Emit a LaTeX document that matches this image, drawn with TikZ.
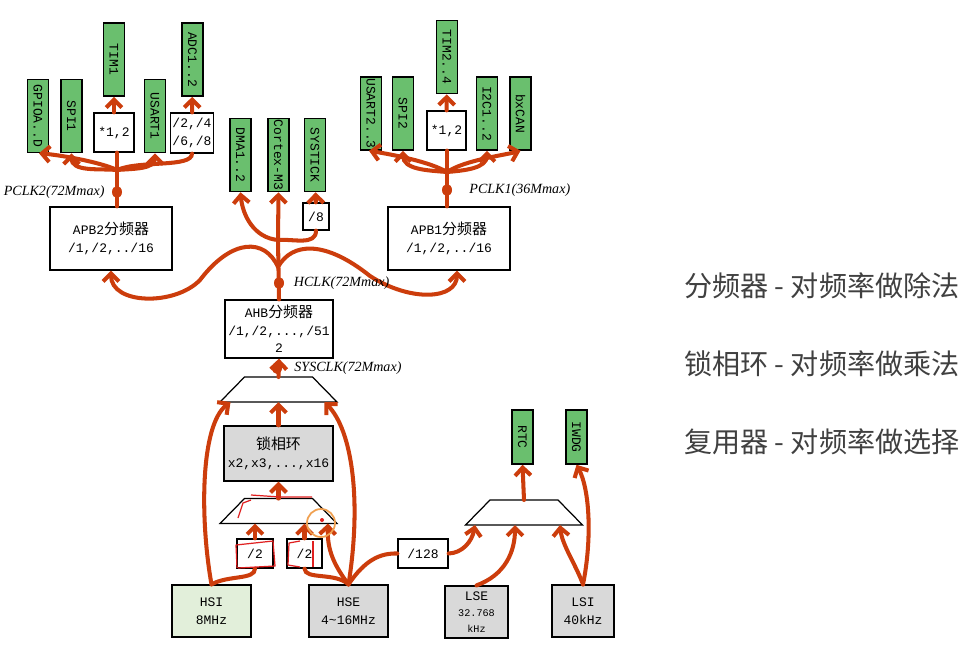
\documentclass[tikz,border=0pt]{standalone}
\usepackage{fontspec}
\setmainfont{Liberation Mono}
\newfontfamily\cjk[Scale=1.15]{Noto Sans CJK SC}
\newfontfamily\notefont{Noto Sans CJK SC}
\newfontfamily\labelfont{Liberation Serif}
\usepackage{tikz}
\usetikzlibrary{arrows.meta, positioning, calc, shapes.geometric}
\usepackage{xcolor}
\definecolor{clkRed}{HTML}{CC3D0C}
\definecolor{periphGreen}{HTML}{6ABF6E}
\definecolor{hsiGreen}{HTML}{E2EFDA}
\definecolor{oscGray}{HTML}{D9D9D9}
\definecolor{noteGray}{HTML}{404040}
\definecolor{penRed}{HTML}{E02020}
\definecolor{cursorOrange}{HTML}{F0A050}

\begin{document}
\begin{tikzpicture}[
        x=0.02cm, y=-0.02cm,
        font=\fontsize{7.4}{10}\selectfont,
        box/.style={draw, line width=0.7pt, align=center, inner sep=1pt, fill=#1},
        box/.default=white,
        periph/.style={draw, line width=0.9pt, fill=periphGreen, inner sep=0pt,
                       minimum width=0.42cm, minimum height=#1},
        periph/.default=1.46cm,
        muxline/.style={draw, line width=0.7pt, fill=white},
        wire/.style={draw=clkRed, line width=2.3pt, line cap=round},
        arr/.style={wire, -{Straight Barb[length=4.5pt,width=9pt]}},
        dot/.style={ellipse, fill=clkRed, inner sep=0pt, minimum width=0.2cm, minimum height=0.24cm},
        lbl/.style={font=\labelfont\itshape\fontsize{8}{9}\selectfont, inner sep=1pt},
        note/.style={font=\notefont\fontsize{16}{18}\selectfont, text=noteGray, anchor=west},
        pen/.style={draw=penRed, line width=0.7pt, line join=round}
      ]
      \useasboundingbox (0,0) rectangle (966,670);

      % APB2 side
      \node[periph] (gpio)     at (38,116)    {\rotatebox{-90}{GPIOA..D}};
      \node[periph] (spione)   at (71.5,116)  {\rotatebox{-90}{SPI1}};
      \node[periph] (timone)   at (114,59.5)  {\rotatebox{-90}{TIM1}};
      \node[periph] (usartone) at (155,116)   {\rotatebox{-90}{USART1}};
      \node[periph] (adc)      at (192.5,59.5){\rotatebox{-90}{ADC1..2}};
      \node[box, minimum width=0.8cm, minimum height=0.78cm] (mulA) at (114,132.5) {*1,2};
      \node[box, minimum width=0.8cm, minimum height=0.8cm]  (divA) at (192,133) {/2,/4\\/6,/8};
      \node[box, minimum width=2.44cm, minimum height=1.26cm] (apbtwo) at (111,238.5)
        {APB2{\cjk 分频器}\\/1,/2,../16};

      % AHB side
      \node[periph] (dma)     at (240.5,155) {\rotatebox{-90}{DMA1..2}};
      \node[periph] (cortex)  at (278.5,155) {\rotatebox{-90}{Cortex-M3}};
      \node[periph] (systick) at (315,155)   {\rotatebox{-90}{SYSTICK}};
      \node[box, minimum width=0.52cm, minimum height=0.54cm] (diveight) at (316,216.5) {/8};
      \node[box, minimum width=2.16cm, minimum height=1.16cm] (ahb) at (279,329)
        {AHB{\cjk 分频器}\\/1,/2,...,/51\\2};

      % APB1 side
      \node[periph] (usarttwo) at (371,113.5) {\rotatebox{-90}{USART2..3}};
      \node[periph] (spitwo)   at (403,113.5) {\rotatebox{-90}{SPI2}};
      \node[periph] (timtwo)   at (447,57)    {\rotatebox{-90}{TIM2..4}};
      \node[periph] (ictwo)    at (487,113.5) {\rotatebox{-90}{I2C1..2}};
      \node[periph] (bxcan)    at (520.5,113.5) {\rotatebox{-90}{bxCAN}};
      \node[box, minimum width=0.78cm, minimum height=0.78cm] (mulB) at (446.5,130.5) {*1,2};
      \node[box, minimum width=2.44cm, minimum height=1.26cm] (apbone) at (449,238.5)
        {APB1{\cjk 分频器}\\/1,/2,../16};

      % multiplexers (top edge 68 wide, bottom edge 117 wide)
      \coordinate (muxA) at (278.5,389.5);
      \coordinate (muxB) at (278.5,511);
      \coordinate (muxC) at (524,512.5);
      \foreach \m in {muxA,muxB,muxC}{
        \draw[muxline] ($(\m)+(-34,-12.5)$) -- ++(68,0) -- ++(24.5,25) -- ++(-117,0) -- cycle;
        \coordinate (\m-n) at ($(\m)+(0,-12.5)$);
        \coordinate (\m-s) at ($(\m)+(0,12.5)$);
      }

      % clock sources
      \node[box=oscGray, minimum width=2.18cm, minimum height=1.1cm] (pll) at (278.5,453.5)
        {{\cjk 锁相环}\\x2,x3,...,x16};
      \node[box, minimum width=0.72cm, minimum height=0.58cm] (divB) at (255,553.5) {/2};
      \node[box, minimum width=0.7cm, minimum height=0.58cm]  (divC) at (304.5,553.5) {/2};
      \node[box=hsiGreen, minimum width=1.58cm, minimum height=1.04cm] (hsi) at (211.5,611) {HSI\\8MHz};
      \node[box=oscGray, minimum width=1.58cm, minimum height=1.04cm] (hse) at (348.5,611)
        {HSE\\4\textasciitilde16MHz};
      \node[box, minimum width=1.0cm, minimum height=0.58cm] (divD) at (423,553.5) {/128};
      \node[periph=1.08cm] (rtc)  at (522.5,437) {\rotatebox{-90}{RTC}};
      \node[periph=1.08cm] (iwdg) at (576.5,437) {\rotatebox{-90}{IWDG}};
      \node[box=oscGray, minimum width=1.26cm, minimum height=1.04cm] (lse) at (476.5,612)
        {LSE\\[-1pt]{\fontsize{5.8}{7}\selectfont 32.768}\\[-1pt]{\fontsize{5.8}{7}\selectfont kHz}};
      \node[box=oscGray, minimum width=1.24cm, minimum height=1.04cm] (lsi) at (583,611) {LSI\\40kHz};

      \coordinate (pB) at (117,170);
      \coordinate (hB) at (278,240);
      \coordinate (hA) at (278,267);
      \coordinate (pA) at (447,172);
      \coordinate (aL) at ($(muxA-s)+(-48,0)$);
      \coordinate (aR) at ($(muxA-s)+(46,0)$);
      \coordinate (bR) at ($(muxB-s)+(49.5,0)$);
      \coordinate (cL) at ($(muxC-s)+(-49,0)$);
      \coordinate (cM) at ($(muxC-s)+(-9,0)$);
      \coordinate (cR) at ($(muxC-s)+(36,0)$);

      % PCLK2 tree
      \draw[wire] (apbtwo.north -| pB) -- (pB);
      \draw[arr] (pB) .. controls (100,162) and (60,155) .. ($(gpio.south)+(1,0)$);
      \draw[arr] (pB) to[out=175,in=-90] (spione.south);
      \draw[wire] (pB) -- (pB |- mulA.south);
      \draw[arr] (pB) to[out=5,in=-90] (usartone.south);
      \draw[wire] (pB) .. controls (140,160) and (192,168) .. (divA.south);
      \draw[arr] (mulA) -- (timone);
      \draw[arr] (divA) -- (adc);

      % HCLK tree
      \draw[wire] (ahb.north) -- (hB);
      \draw[arr] (hB) -- (cortex.south);
      \draw[arr] (hB) to[out=175,in=-85] (dma.south);
      \draw[wire] (hB) to[out=5,in=-90] (diveight.south);
      \draw[arr] (diveight) -- (systick);
      \draw[arr] (hA) .. controls (265,238) and (232,238) .. (200,280)
                       .. controls (175,306) and (111,305) .. (apbtwo.south);
      \draw[arr] (hA) .. controls (292,242) and (325,240) .. (370,276)
                       .. controls (410,302) and (457,300) .. ($(apbone.south)+(8,0)$);

      % PCLK1 tree
      \draw[wire] (apbone.north -| pA) -- (pA);
      \draw[arr] (pA) .. controls (430,162) and (395,155) .. ($(usarttwo.south)+(-2,0)$);
      \draw[arr] (pA) to[out=175,in=-90] (spitwo.south);
      \draw[wire] (pA) -- (pA |- mulB.south);
      \draw[arr] (pA) to[out=5,in=-90] (ictwo.south);
      \draw[arr] (pA) .. controls (465,160) and (505,155) .. (bxcan.south);
      \draw[arr] (mulB) -- (timtwo);

      % SYSCLK and sources
      \draw[arr] (muxA-n) -- (ahb.south);
      \draw[arr] (pll) -- (muxA-s);
      \draw[arr] (muxB-n) -- (pll);
      \draw[arr] (hsi.north) .. controls (200,520) and (200,425) .. (aL);
      \draw[wire] (hsi.north) .. controls (228,575) and (255,580) .. (divB.south);
      \draw[arr] (divB.north) -- (divB.north |- muxB-s);
      \draw[wire] (hse.north) .. controls (335,572) and (305,580) .. (divC.south);
      \draw[arr] (divC.north) -- (divC.north |- muxB-s);
      \draw[arr] (hse.north) .. controls (334,565) and (327,550) .. (bR);
      \draw[arr] (hse.north) .. controls (362,500) and (352,430) .. (aR);
      \draw[wire] (hse.north) .. controls (365,560) and (380,553) .. (divD.west);
      \draw[arr] (divD.east) .. controls (462,553) and (472,542) .. (cL);
      \draw[arr] (lse.north) .. controls (505,575) and (515,552) .. (cM);
      \draw[arr] (lsi.north) .. controls (576,565) and (562,545) .. (cR);
      \draw[arr] (lsi.north) .. controls (592,540) and (590,490) .. (iwdg.south);
      \draw[arr] (muxC-n) -- (rtc.south);

      % clock dots and names
      \node[dot] (pclkB) at (117,192) {};
      \node[lbl, left=0.1cm of pclkB] (pclkBlbl) {PCLK2(72Mmax)};
      \node[dot] (hclk) at (279,283) {};
      \node[lbl, right=0.15cm of hclk] (hclklbl) {HCLK(72Mmax)};
      \node[dot] (pclkA) at (447,190) {};
      \node[lbl, right=0.3cm of pclkA] (pclkAlbl) {PCLK1(36Mmax)};
      \node[dot] (sysclk) at (277,368) {};
      \node[lbl, right=0.2cm of sysclk] (sysclklbl) {SYSCLK(72Mmax)};

      % pen marks on the screen
      \draw[pen] (237,568) -- (236,545) -- (273,541) -- (275,566) -- (238,568);
      \draw[pen] (300,541) -- (289,543) -- (288,565) -- (300,567);
      \draw[pen] (313,541) -- (313,567);
      \draw[pen] (251,495) -- (280,497) -- (312,497);
      \draw[pen] (238,518) -- (243,503) -- (251,500);
      \draw[cursorOrange, line width=1pt] (321,523) circle (14);
      \fill[penRed] (322,520) circle (2);

      % notes
      \node[note] (noteA) at (678,286) {分频器 - 对频率做除法};
      \node[note] (noteB) at (678,364) {锁相环 - 对频率做乘法};
      \node[note] (noteC) at (678,442) {复用器 - 对频率做选择};
    \end{tikzpicture}
\end{document}
